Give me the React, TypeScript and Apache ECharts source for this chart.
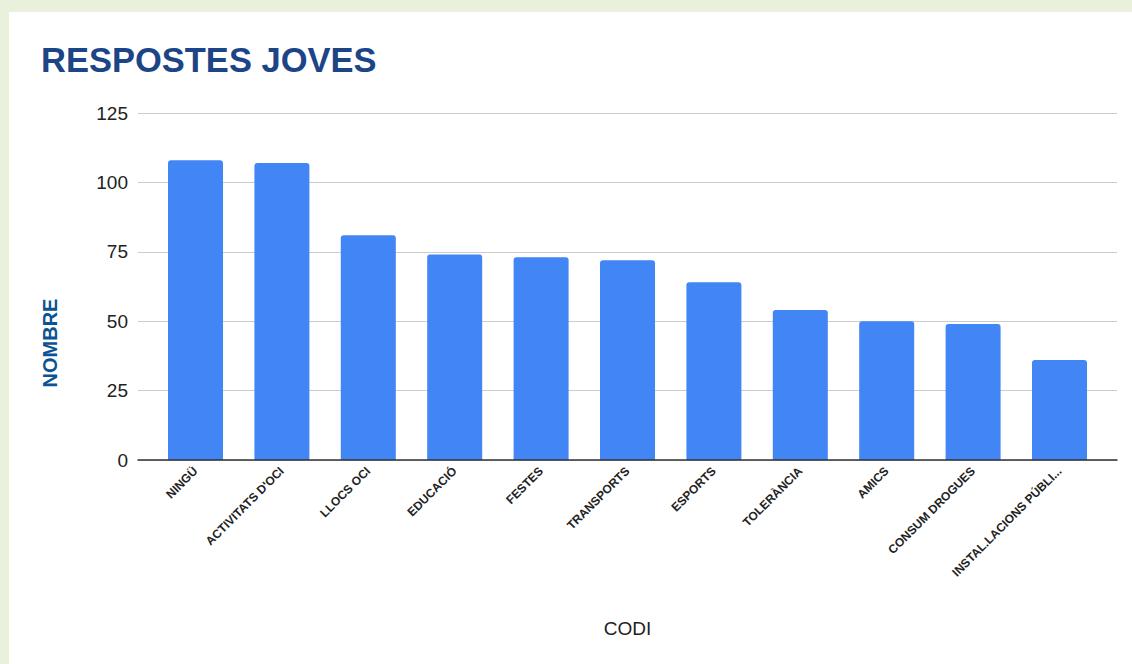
import React, { useEffect, useRef } from "react";
import * as echarts from "echarts";

const categories = [
  "NINGÜ",
  "ACTIVITATS D'OCI",
  "LLOCS OCI",
  "EDUCACIÓ",
  "FESTES",
  "TRANSPORTS",
  "ESPORTS",
  "TOLERÀNCIA",
  "AMICS",
  "CONSUM DROGUES",
  "INSTAL.LACIONS PÚBLI...",
];
const values = [108, 107, 81, 74, 73, 72, 64, 54, 50, 49, 36];
const yTicks = { min: 0, max: 125, interval: 25 };

const FONT = "'Liberation Sans', Arial, sans-serif";

export default function App() {
  const ref = useRef<HTMLDivElement>(null);
  useEffect(() => {
    document.body.style.margin = "0";
    const chart = echarts.init(ref.current!, undefined, { renderer: "svg" });
    chart.setOption({
      animation: false,
      backgroundColor: "#e9f1dc",
      textStyle: { fontFamily: FONT },
      graphic: [
        {
          type: "rect",
          z: -10,
          silent: true,
          shape: { x: 9, y: 12, width: 1123, height: 652 },
          style: { fill: "#ffffff" },
        },
        {
          type: "text",
          x: 50,
          y: 343,
          rotation: Math.PI / 2,
          silent: true,
          style: {
            text: "NOMBRE",
            fontSize: 20,
            fontWeight: "bold",
            fill: "#0b5394",
            fontFamily: FONT,
            align: "center",
            verticalAlign: "middle",
          },
        },
      ],
      title: {
        text: "RESPOSTES JOVES",
        left: 41,
        top: 42,
        padding: 0,
        textStyle: {
          fontFamily: FONT,
          fontSize: 34.5,
          fontWeight: "bold",
          color: "#1c4587",
        },
      },
      grid: [
        { left: 138, right: 15, top: 113, bottom: 204, containLabel: false },
        { left: 152.3, right: 29.3, top: 113, bottom: 204, containLabel: false },
      ],
      xAxis: [
        {
          gridIndex: 0,
          type: "value",
          min: 0,
          max: 1,
          axisLine: { show: true, onZero: false, lineStyle: { color: "#333333", width: 1.5 } },
          axisTick: { show: false },
          axisLabel: { show: false },
          splitLine: { show: false },
          z: 5,
        },
        {
          gridIndex: 1,
          type: "category",
          data: categories,
          axisLine: { show: false },
          axisTick: { show: false },
          axisLabel: {
            interval: 0,
            rotate: 45,
            margin: 9,
            fontSize: 12,
            fontWeight: "bold",
            color: "#222222",
            fontFamily: FONT,
          },
          name: "CODI",
          nameLocation: "middle",
          nameGap: 159,
          nameTextStyle: { fontSize: 19, color: "#222222", fontFamily: FONT },
        },
      ],
      yAxis: [
        {
          gridIndex: 0,
          type: "value",
          min: yTicks.min,
          max: yTicks.max,
          interval: yTicks.interval,
          axisLine: { show: false },
          axisTick: { show: false },
          axisLabel: { fontSize: 19, color: "#222222", margin: 10, fontFamily: FONT },
          splitLine: { lineStyle: { color: "#cccccc", width: 1 } },
        },
        {
          gridIndex: 1,
          type: "value",
          min: yTicks.min,
          max: yTicks.max,
          interval: yTicks.interval,
          show: false,
          splitLine: { show: false },
        },
      ],
      series: [
        {
          type: "bar",
          xAxisIndex: 1,
          yAxisIndex: 1,
          data: values,
          barWidth: 55,
          itemStyle: { color: "#4285f4", borderRadius: [3, 3, 0, 0] },
          z: 2,
        },
      ],
    });
    return () => chart.dispose();
  }, []);
  return (
    <div
      ref={ref}
      style={{ position: "absolute", left: 0, top: 0, width: 1132, height: 664 }}
    />
  );
}
